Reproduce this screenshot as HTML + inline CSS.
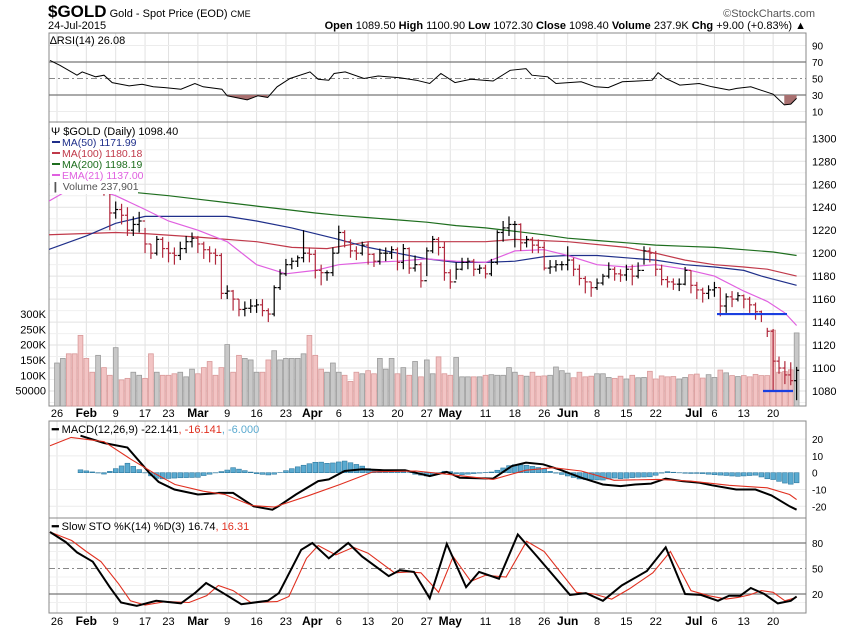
<!DOCTYPE html>
<html><head><meta charset="utf-8"><style>
body{margin:0;background:#fff;}
svg{display:block;font-family:"Liberation Sans",sans-serif;}
</style></head><body>
<svg id="c" width="850" height="633" viewBox="0 0 850 633"></svg>
<script>
const closes=[1280,1292,1285,1283,1278,1275,1262,1266,1262,1235,1238,1233,1220,1225,1228,1208,1200,1212,1204,1200,1198,1204,1210,1213,1208,1203,1200,1198,1165,1167,1160,1151,1152,1154,1155,1150,1147,1170,1182,1190,1193,1196,1200,1199,1185,1183,1183,1200,1218,1210,1202,1200,1207,1199,1193,1200,1200,1203,1192,1204,1187,1190,1176,1202,1212,1205,1183,1175,1186,1192,1193,1186,1187,1182,1192,1218,1222,1225,1225,1209,1212,1207,1205,1187,1188,1190,1190,1194,1186,1178,1175,1170,1174,1180,1186,1182,1181,1186,1180,1185,1202,1200,1186,1177,1175,1173,1173,1185,1172,1168,1165,1168,1170,1154,1162,1160,1163,1160,1155,1149,1147,1132,1106,1100,1094,1089,1098];
const highs=[1290,1300,1295,1292,1290,1285,1278,1272,1270,1252,1245,1243,1240,1232,1236,1222,1208,1215,1214,1210,1205,1210,1215,1218,1215,1210,1206,1204,1200,1172,1168,1160,1158,1160,1160,1160,1152,1172,1186,1195,1196,1198,1220,1205,1203,1190,1185,1205,1224,1220,1212,1206,1210,1210,1200,1204,1205,1206,1205,1208,1205,1198,1192,1205,1215,1214,1210,1186,1192,1196,1196,1195,1190,1190,1195,1220,1228,1232,1228,1226,1215,1214,1212,1210,1194,1194,1193,1206,1196,1190,1180,1175,1178,1182,1192,1188,1186,1190,1190,1192,1206,1205,1202,1190,1180,1178,1178,1188,1185,1175,1170,1172,1175,1170,1165,1167,1166,1164,1162,1157,1150,1135,1134,1110,1106,1105,1101];
const lows=[1272,1280,1278,1275,1270,1260,1255,1258,1250,1220,1230,1225,1215,1215,1218,1200,1195,1198,1196,1192,1190,1194,1200,1205,1200,1195,1192,1190,1160,1160,1150,1145,1145,1148,1148,1145,1140,1145,1168,1180,1186,1188,1192,1192,1178,1172,1176,1180,1200,1205,1196,1194,1198,1190,1188,1190,1193,1195,1185,1186,1182,1184,1170,1180,1200,1198,1176,1169,1177,1185,1186,1180,1182,1178,1180,1190,1210,1215,1205,1202,1205,1200,1200,1185,1182,1184,1185,1185,1180,1172,1165,1162,1168,1172,1178,1176,1175,1176,1172,1178,1190,1192,1180,1172,1170,1168,1167,1172,1165,1160,1157,1160,1162,1145,1148,1153,1158,1152,1148,1142,1140,1127,1080,1095,1086,1085,1072];
const volumes=[140,155,170,170,230,155,110,165,125,100,190,85,90,110,100,90,170,110,100,100,105,110,95,120,105,125,145,100,125,200,110,165,155,150,110,110,150,180,150,155,155,155,170,230,165,120,110,140,110,100,80,110,105,115,105,155,120,155,105,125,100,145,95,150,105,160,105,100,158,95,95,95,95,100,102,100,100,125,110,100,97,110,97,98,100,127,115,107,92,110,95,97,105,105,93,90,97,88,100,92,93,113,88,98,95,96,88,93,102,104,91,102,93,117,108,99,96,99,95,103,99,99,247,110,112,118,238];
const ma50Days=[-1.5,5,10,15,24,29,34,40,48,53,58,63,68,73,78,83,87,92,97,102,107,112,117,120,126];
const ma50Vals=[1203,1215,1226,1232,1232,1232,1228,1222,1212,1205,1200,1195,1192,1192,1193,1197,1198,1198,1196,1194,1190,1188,1185,1180,1172];
const ma100Days=[-1.5,10,15,24,34,40,46,53,63,73,78,87,97,102,107,112,117,121,126];
const ma100Vals=[1216,1218,1217,1214,1210,1205,1204,1210,1210,1210,1212,1210,1205,1200,1194,1190,1188,1186,1180];
const ma200Days=[13,19,24,29,34,39,44,48,53,58,63,68,73,78,83,87,92,97,102,107,112,117,122,126];
const ma200Vals=[1253,1250,1247,1244,1241,1238,1235,1233,1231,1229,1227,1224,1222,1219,1216,1213,1211,1209,1207,1206,1205,1203,1201,1198];
const emaDays=[-1.5,3,5,10,15,19,24,29,34,39,44,48,53,58,63,68,73,78,83,87,92,97,102,107,112,117,121,124,126];
const emaVals=[1245,1258,1258,1250,1238,1228,1220,1210,1190,1182,1185,1190,1192,1193,1195,1193,1192,1202,1203,1198,1190,1188,1190,1186,1180,1167,1158,1148,1137];
const rsiDays=[-1.2,0.5,3.4,4.3,6.6,8,9.4,12.3,14.5,16.4,18.4,21.1,23.5,24.9,28.1,29,32.4,34.2,35.9,37.5,39.7,43.1,44.5,46.3,47.2,49.1,52.3,54.7,58.4,61.2,63.5,65.4,67.8,70.5,74.3,77.2,79.9,80.9,83.6,85,89.3,91.7,93.9,96.3,99,101.4,102.4,103.7,106.1,109.4,111.6,114.5,115.8,118.2,122,123.9,125,126];
const rsiVals=[72,66,54,58,52,54,45,41,43,40,39,37,44,40,37,29,24,29,27,40,50,58,49,48,56,58,50,53,51,48,44,56,45,49,47,60,62,54,52,44,46,40,39,46,47,48,57,50,42,44,40,36,38,40,31,18,19,26];
const macdDays=[4,8,12,15.7,17.3,20,24,28,27.5,30,33.5,36.7,37.7,40.7,44.5,46.3,49,52,55.7,59.3,63.5,66.4,68.6,74.3,77.5,79.9,82.8,85.5,89.3,93,96,98.5,101.2,103.7,106.5,109.5,111.6,115.7,119,121.7,124.8,126];
const macdVals=[22,17.7,15,0,-5.5,-10,-13,-12,-12,-12,-20,-22,-20,-13,-5,-4,1,2,1.5,1.5,-2,0.5,-3,-3.5,4,6,5,2,-3,-7,-8,-7,-6.5,-3.5,-5,-6,-7.5,-10,-10,-13.5,-20,-22];
const sigDays=[-1.2,2.4,8,12.6,16.4,20.1,24.9,28.6,33.2,37,42.6,48.2,53.8,61.2,66.8,74.3,79.9,84.5,89.3,94.9,102.4,107.9,114.5,121,124.8,126];
const sigVals=[16,21,18.5,8,0,-7,-11,-13,-19.5,-20.5,-14,-7,0.5,1,-1,-4,1.5,3,1,-4.5,-4,-5,-7.5,-9,-13,-16];
const kDays=[-1.2,1.5,3.4,6.1,9,10.9,13.6,16.9,21.1,23.5,25.4,28.1,31.4,35.9,37.8,41.6,43.5,46.3,49.6,52,56.5,58.4,60.8,63.5,66.4,69.7,71.9,75.3,78.5,81.8,87.4,90.1,93,96.2,100.5,103.7,107,109.7,112.6,114.5,116.4,118.2,120.5,122.8,125,126];
const kVals=[93,81,69,58,28,10,6,12,9,21,33,22,8,12,21,72,80,62,80,64,41,48,46,15,79,28,46,38,90,64,19,21,12,30,47,75,20,19,12,18,18,27,20,9,12,17];
const dDays=[-1.2,2.5,5,7.5,10.5,12.5,15,18.5,22.5,25.5,27.5,30,33,37.5,39.5,42.5,44.5,47.5,50.5,53,57.5,60,62,65,67.5,70.5,73,76.5,80,83,88.5,91.5,94.5,97.5,101.5,104.5,108,111,114,116,118,120,122,124,126];
const dVals=[93,83,70,58,32,12,7,11,10,18,30,24,10,11,17,62,77,66,75,68,45,46,45,22,64,35,42,40,82,70,22,20,14,26,45,70,24,18,14,16,19,24,22,12,16];
const gridDays=[0,5,10,15,19,24,29,34,39,44,48,53,58,63,67,73,78,83,87,92,97,102,109,112,117,122];
const tickLabels=["26","Feb","9","17","23","Mar","9","16","23","Apr","6","13","20","27","May","11","18","26","Jun","8","15","22","Jul","6","13","20"];
const tickBold=[0,1,0,0,0,1,0,0,0,1,0,0,0,0,1,0,0,0,1,0,0,0,1,0,0,0];
const priceTicks=[1300,1280,1260,1240,1220,1200,1180,1160,1140,1120,1100,1080];
const volTicks=[300,250,200,150,100,50];
const volTickLabels=["300K","250K","200K","150K","100K","50000"];
const rsiTicks=[90,70,50,30,10];
const macdTicks=[20,10,0,-10,-20];
const stoTicks=[80,50,20];

const NS="http://www.w3.org/2000/svg";
const svg=document.getElementById('c');
const L=49,R=806;
const X=i=>57+i*5.87;
const yP=p=>391-(p-1080)*1.1486;
const yV=v=>406-v*0.307;
const yR=v=>62+(70-v)*0.825;
const yM=v=>472.7-v*1.68;
const yS=v=>543+(80-v)*0.85;
function mk(tag,attrs,parent){const e=document.createElementNS(NS,tag);for(const k in attrs)e.setAttribute(k,attrs[k]);(parent||svg).appendChild(e);return e;}
function txt(s,x,y,opt,parent){const e=mk('text',Object.assign({x:x,y:y,'font-size':11,fill:'#000'},opt||{}),parent);e.textContent=s;return e;}
function pathOf(days,vals,fy){return days.map((d,k)=>(k?'L':'M')+X(d).toFixed(1)+','+fy(vals[k]).toFixed(1)).join(' ');}

const defs=mk('defs',{});
const cp=mk('clipPath',{id:'plot'},defs);mk('rect',{x:L,y:33,width:R-L,height:580},cp);

const panels=[[33,122,'rsi-panel'],[122,406,'price-panel'],[421,518,'macd-panel'],[518,613,'sto-panel']];
const gGrid=mk('g',{});

panels.forEach(p=>{
  gridDays.forEach(d=>{mk('line',{x1:X(d),x2:X(d),y1:p[0],y2:p[1],stroke:'#e2e2e2','stroke-width':1},gGrid);});
});
for(let p=1070;p<=1300;p+=10){mk('line',{x1:L,x2:R,y1:yP(p),y2:yP(p),stroke:p%20===0?'#e2e2e2':'#f0f0f0'},gGrid);}
[-20,-10,10,20].forEach(v=>mk('line',{x1:L,x2:R,y1:yM(v),y2:yM(v),stroke:'#ececec'},gGrid));
[10,90].forEach(v=>mk('line',{x1:L,x2:R,y1:yR(v),y2:yR(v),stroke:'#ececec'},gGrid));
[10,30,40,60,70,90].forEach(v=>mk('line',{x1:L,x2:R,y1:yS(v),y2:yS(v),stroke:'#f0f0f0'},gGrid));

panels.forEach(p=>{const r=mk('rect',{x:L,y:p[0],width:R-L,height:p[1]-p[0],fill:'none',stroke:'#888'});});

const gR=mk('g',{'clip-path':'url(#plot)'});

[70,30].forEach(v=>mk('line',{x1:L,x2:R,y1:yR(v),y2:yR(v),stroke:'#777','stroke-width':1.2},gR));
mk('line',{x1:L,x2:R,y1:yR(50),y2:yR(50),stroke:'#888','stroke-dasharray':'6,3,2,3'},gR);
(function(){let seg=[];const fillSeg=()=>{if(seg.length>1){const d='M'+X(seg[0][0])+','+yR(30)+' '+seg.map(s=>'L'+X(s[0]).toFixed(1)+','+yR(s[1]).toFixed(1)).join(' ')+' L'+X(seg[seg.length-1][0])+','+yR(30)+'Z';const f=mk('path',{d:d,fill:'#a87070'},gR);}seg=[];};
rsiDays.forEach((d,k)=>{if(rsiVals[k]<=30)seg.push([d,rsiVals[k]]);else fillSeg();});fillSeg();})();
const rl=mk('path',{d:pathOf(rsiDays,rsiVals,yR),fill:'none',stroke:'#000','stroke-width':1},gR);

rsiTicks.forEach(v=>txt(String(v),812,yR(v)+4,{'font-size':10}));

const gV=mk('g',{});

volumes.forEach((v,i)=>{const up=i===0?true:closes[i]>=closes[i-1];
  const b=mk('rect',{x:X(i)-2.4,y:yV(v),width:4.8,height:406-yV(v),fill:up?'#c8c8c8':'#f2c4c4',stroke:up?'#9a9a9a':'#d99a9a','stroke-width':0.8},gV);
  });
volTicks.forEach((v,k)=>txt(volTickLabels[k],46,yV(v)+4,{'font-size':11,'text-anchor':'end'}));

const gMA=mk('g',{'clip-path':'url(#plot)'});
[[ma200Days,ma200Vals,'#1e6e1e','ma200-line'],[ma100Days,ma100Vals,'#c0394a','ma100-line'],[ma50Days,ma50Vals,'#1f2f8a','ma50-line'],[emaDays,emaVals,'#e060e0','ema21-line']].forEach(s=>{
  const p=mk('path',{d:pathOf(s[0],s[1],yP),fill:'none',stroke:s[2],'stroke-width':1.2},gMA);
  });

const gB=mk('g',{'clip-path':'url(#plot)'});

closes.forEach((c,i)=>{const o=i===0?c:closes[i-1];const col=c>=o?'#000':'#b0283c';const x=X(i);
  const g=mk('g',{stroke:col,'stroke-width':1.2},gB);
  
  mk('line',{x1:x,x2:x,y1:yP(highs[i]),y2:yP(lows[i])},g);
  mk('line',{x1:x-2.5,x2:x,y1:yP(o),y2:yP(o)},g);
  mk('line',{x1:x,x2:x+2.5,y1:yP(c),y2:yP(c)},g);});
const s1=mk('line',{x1:717,x2:787,y1:yP(1147),y2:yP(1147),stroke:'#1a3fe0','stroke-width':2.2});

const s2=mk('line',{x1:763,x2:793,y1:yP(1080),y2:yP(1080),stroke:'#1a3fe0','stroke-width':2.2});

priceTicks.forEach(p=>txt(String(p),812,yP(p)+4,{'font-size':11}));

const lg=mk('g',{});

mk('rect',{x:50,y:123,width:88,height:71,fill:'#fff'},lg);
txt('\u03a8 $GOLD (Daily) 1098.40',51,135,{'font-size':11},lg);
[['MA(50) 1171.99','#1f2f8a'],['MA(100) 1180.18','#c0394a'],['MA(200) 1198.19','#1e6e1e'],['EMA(21) 1137.00','#e060e0']].forEach((e,k)=>{
  const y=146+k*11;mk('line',{x1:52,x2:60,y1:y-4,y2:y-4,stroke:e[1],'stroke-width':2},lg);txt(e[0],62,y,{'font-size':10.5,fill:e[1]},lg);});
txt('\u2759 Volume 237,901',51,190,{'font-size':10.5,fill:'#555'},lg);

const gM=mk('g',{'clip-path':'url(#plot)'});

function interp(days,vals,d){if(d<=days[0])return vals[0];for(let k=1;k<days.length;k++){if(d<=days[k]){const t=(d-days[k-1])/(days[k]-days[k-1]);return vals[k-1]+t*(vals[k]-vals[k-1]);}}return vals[vals.length-1];}
closes.forEach((c,i)=>{if(i<4)return;const h=interp(macdDays,macdVals,i)-interp(sigDays,sigVals,i);
  const hb=mk('rect',{x:X(i)-2.4,y:Math.min(yM(0),yM(h)),width:4.8,height:Math.abs(yM(h)-yM(0)),fill:'#5aaad0',stroke:'#2f7aa0','stroke-width':0.6},gM);
  });
const ml=mk('path',{d:pathOf(macdDays,macdVals,yM),fill:'none',stroke:'#000','stroke-width':2},gM);

const sl=mk('path',{d:pathOf(sigDays,sigVals,yM),fill:'none',stroke:'#e03020','stroke-width':1.1},gM);

macdTicks.forEach(v=>txt(String(v),812,yM(v)+4,{'font-size':10}));
const mlg=mk('text',{x:52,y:433,'font-size':11},svg);

mlg.innerHTML='<tspan font-weight="bold">\u2501</tspan> MACD(12,26,9) -22.141<tspan fill="#e03020">, -16.141</tspan><tspan fill="#5aaad0">, -6.000</tspan>';

const gS=mk('g',{'clip-path':'url(#plot)'});

[80,20].forEach(v=>mk('line',{x1:L,x2:R,y1:yS(v),y2:yS(v),stroke:'#777','stroke-width':1.2},gS));
mk('line',{x1:L,x2:R,y1:yS(50),y2:yS(50),stroke:'#888','stroke-dasharray':'6,3,2,3'},gS);
const dl=mk('path',{d:pathOf(dDays,dVals,yS),fill:'none',stroke:'#e03020','stroke-width':1.1},gS);

const kl=mk('path',{d:pathOf(kDays,kVals,yS),fill:'none',stroke:'#000','stroke-width':2},gS);

stoTicks.forEach(v=>txt(String(v),812,yS(v)+4,{'font-size':10}));
const slg=mk('text',{x:52,y:530,'font-size':11},svg);

slg.innerHTML='<tspan font-weight="bold">\u2501</tspan> Slow STO %K(14) %D(3) 16.74<tspan fill="#e03020">, 16.31</tspan>';

const rlg=txt('\u2206RSI(14) 26.08',50,44,{'font-size':11});


[417,625].forEach((y,row)=>{const g=mk('g',{});
  
  gridDays.forEach((d,k)=>{let x=X(d);if(tickLabels[k]==='Apr'||tickLabels[k]==='Jul')x-=3;
    txt(tickLabels[k],x,y,{'font-size':tickBold[k]?12:11,'font-weight':tickBold[k]?'bold':'normal','text-anchor':'middle'},g);});});

const h1=mk('text',{x:48,y:17,'font-size':11},svg);

h1.innerHTML='<tspan font-size="17" font-weight="bold">$GOLD</tspan> Gold - Spot Price (EOD) <tspan font-size="9">CME</tspan>';
const dt=txt('24-Jul-2015',48,29,{'font-size':11});
const q=mk('text',{x:806,y:29,'font-size':11,'text-anchor':'end'},svg);

q.innerHTML='<tspan font-weight="bold">Open</tspan> 1089.50 <tspan font-weight="bold">High</tspan> 1100.90 <tspan font-weight="bold">Low</tspan> 1072.30 <tspan font-weight="bold">Close</tspan> 1098.40 <tspan font-weight="bold">Volume</tspan> 237.9K <tspan font-weight="bold">Chg</tspan> +9.00 (+0.83%) \u25b2';
const wm=txt('\u00a9StockCharts.com',815,17,{'font-size':11,'text-anchor':'end',fill:'#555'});

</script>
</body></html>
